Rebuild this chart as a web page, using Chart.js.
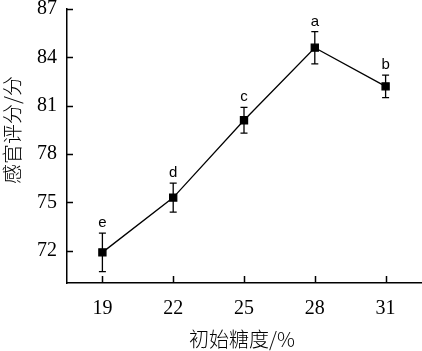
<!DOCTYPE html>
<html>
<head>
<meta charset="utf-8">
<script src="https://cdn.jsdelivr.net/npm/chart.js@4/dist/chart.umd.min.js"></script>
<style>
html,body{margin:0;padding:0;background:#fff;}
#wrap{width:422px;height:351px;}
</style>
</head>
<body>
<div id="wrap"><canvas id="c" width="422" height="351"></canvas></div>
<script>
// ---- data ----
const sugar = [19, 22, 25, 28, 31];
const score = [71.9, 75.3, 80.1, 84.6, 82.2];
const errors = [1.2, 0.9, 0.8, 1.0, 0.7];
const letters = ['e', 'd', 'c', 'a', 'b'];
const xTicks = [19, 22, 25, 28, 31];
const yTicks = [72, 75, 78, 81, 84, 87];
const xTitle = '初始糖度/%';
const yTitle = '感官评分/分';

const tickFont = {family: '"Liberation Serif", "Times New Roman", serif', size: 20};
const cjkFontStr = '300 20px "Noto Sans CJK SC", sans-serif';

function zeroPad(s) { s.paddingLeft = 0; s.paddingRight = 0; s.paddingTop = 0; s.paddingBottom = 0; }

const errorBarPlugin = {
  id: 'errorBars',
  afterDatasetsDraw(chart) {
    const ctx = chart.ctx;
    const xs = chart.scales.x, ys = chart.scales.y;
    ctx.save();
    ctx.strokeStyle = '#000';
    ctx.lineWidth = 1.3;
    ctx.fillStyle = '#000';
    ctx.font = '15px "Liberation Sans", Arial, sans-serif';
    ctx.textAlign = 'center';
    ctx.textBaseline = 'alphabetic';
    sugar.forEach((xv, i) => {
      const px = xs.getPixelForValue(xv);
      const top = ys.getPixelForValue(score[i] + errors[i]);
      const bot = ys.getPixelForValue(score[i] - errors[i]);
      ctx.beginPath();
      ctx.moveTo(px, top); ctx.lineTo(px, bot);
      ctx.moveTo(px - 3.5, top); ctx.lineTo(px + 3.5, top);
      ctx.moveTo(px - 3.5, bot); ctx.lineTo(px + 3.5, bot);
      ctx.stroke();
      ctx.fillText(letters[i], px, top - 6);
    });
    ctx.restore();
  },
  afterDraw(chart) {
    const ctx = chart.ctx;
    const xs = chart.scales.x, ys = chart.scales.y;
    const a = chart.chartArea;
    ctx.save();
    ctx.strokeStyle = '#000';
    ctx.lineWidth = 1.5;
    ctx.beginPath();
    ys.ticks.forEach(t => {
      const py = Math.round(ys.getPixelForValue(t.value)) + 0.5;
      ctx.moveTo(a.left, py); ctx.lineTo(a.left + 6, py);
    });
    xs.ticks.forEach(t => {
      const px = Math.round(xs.getPixelForValue(t.value)) + 0.5;
      ctx.moveTo(px, a.bottom); ctx.lineTo(px, a.bottom - 7);
    });
    ctx.stroke();
    // axis titles
    ctx.fillStyle = '#000';
    ctx.font = cjkFontStr;
    ctx.textAlign = 'center';
    ctx.textBaseline = 'middle';
    ctx.fillText(xTitle, 242, 339);
    ctx.translate(12, (a.top + a.bottom) / 2 - 16);
    ctx.rotate(-Math.PI / 2);
    ctx.fillText(yTitle, 0, 0);
    ctx.restore();
  }
};

new Chart(document.getElementById('c'), {
  type: 'line',
  data: {
    datasets: [{
      data: sugar.map((x, i) => ({x: x, y: score[i]})),
      borderColor: '#000',
      backgroundColor: '#000',
      borderWidth: 1.3,
      pointStyle: 'rect',
      pointRadius: 5,
      pointHoverRadius: 5,
      tension: 0
    }]
  },
  options: {
    responsive: false,
    animation: false,
    events: [],
    layout: {autoPadding: false, padding: {top: 9, right: 1, left: 0, bottom: 0}},
    plugins: {legend: {display: false}, tooltip: {enabled: false}},
    scales: {
      x: {
        type: 'linear',
        min: 17.5,
        max: 32.5,
        afterBuildTicks: s => { s.ticks = xTicks.map(v => ({value: v})); },
        afterFit: s => { s.height = 68; zeroPad(s); },
        grid: {display: false, drawTicks: false},
        border: {display: true, color: '#000', width: 1.5},
        ticks: {color: '#000', font: tickFont, padding: 14, maxRotation: 0, autoSkip: false},
        title: {display: false}
      },
      y: {
        type: 'linear',
        min: 70,
        max: 87,
        afterBuildTicks: s => { s.ticks = yTicks.map(v => ({value: v})); },
        afterFit: s => { s.width = 67; zeroPad(s); },
        grid: {display: false, drawTicks: false},
        border: {display: true, color: '#000', width: 1.5},
        ticks: {color: '#000', font: tickFont, padding: 10, autoSkip: false},
        title: {display: false}
      }
    }
  },
  plugins: [errorBarPlugin]
});
</script>
</body>
</html>
